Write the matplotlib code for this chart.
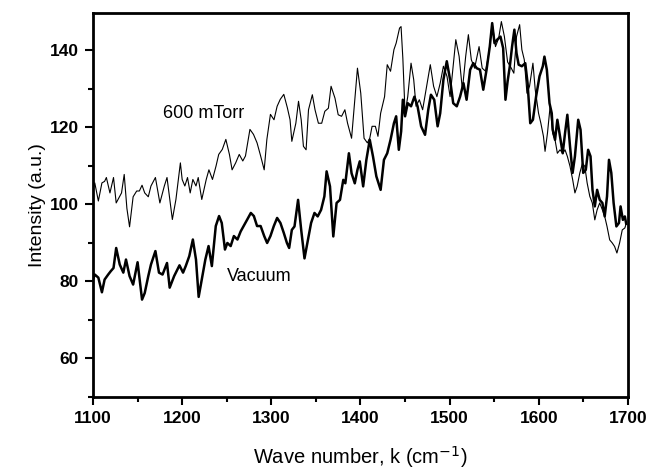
import matplotlib
matplotlib.use('Agg')
import matplotlib.pyplot as plt
from matplotlib.ticker import MultipleLocator

plt.rcParams['font.family'] = ['Liberation Sans', 'DejaVu Sans']

# 600 mTorr spectrum (thin line)
wn_torr = [1100, 1102, 1106, 1110, 1113, 1115, 1119, 1123, 1126, 1132, 1135, 1138, 1141, 1145,
           1149, 1152, 1155, 1158, 1162, 1165, 1170, 1175, 1180, 1183, 1189, 1193, 1198, 1200,
           1203, 1206, 1209, 1212, 1215.5, 1218, 1222, 1227, 1230, 1234, 1238, 1241, 1245, 1249,
           1253, 1256, 1260, 1264, 1268, 1271, 1276, 1280, 1284, 1288, 1292, 1295, 1299, 1303,
           1306.5, 1310, 1314, 1318, 1321, 1323, 1325, 1327.5, 1330.5, 1333.5, 1336, 1339, 1341.7,
           1346, 1349, 1352.8, 1356.5, 1360, 1364, 1367, 1371.4, 1375, 1378.8, 1382.5, 1385.5,
           1390, 1393.6, 1396.6, 1400.3, 1404, 1407.7, 1410.4, 1413, 1416.7, 1419.6, 1422.6, 1427,
           1430, 1433.7, 1437.5, 1440, 1443.8, 1445.5, 1447.5, 1450, 1453, 1456.7, 1459.7, 1462.3,
           1466, 1469.7, 1473.5, 1478.3, 1482, 1485.7, 1489.4, 1493, 1497, 1500.5, 1504.3, 1506.9,
           1510.6, 1514.3, 1518, 1521, 1524.3, 1528, 1533, 1536.5, 1540.3, 1544, 1547.7, 1551.4,
           1555, 1558, 1561.4, 1565, 1568, 1572, 1575, 1578.5, 1581, 1583.7, 1586.7, 1589.6,
           1593.4, 1596, 1599.7, 1602.3, 1605.2, 1607, 1609.7, 1612.7, 1615.6, 1618.2, 1620.8,
           1623.8, 1626.8, 1629.4, 1632, 1635, 1638, 1640.5, 1643, 1646, 1649, 1651.6, 1654.2,
           1657.2, 1660, 1662.8, 1665.4, 1668.3, 1671.3, 1673.9, 1676.5, 1679.5, 1682.4, 1685,
           1687.6, 1690.6, 1693.6, 1696.5, 1698]
int_torr = [104, 105.6, 100.9, 105.6, 106, 107, 103, 107, 100.4, 103, 107.8, 99, 94.2, 102,
            103.5, 103.5, 105, 103, 102, 104.8, 107, 100.4, 104.8, 107, 96.1, 101.3, 110.8, 106.5,
            104.8, 107, 103, 106.5, 104.8, 107, 101.3, 106.5, 109, 106.5, 110, 113, 114.3, 116.9,
            113, 109, 110.8, 113, 111.3, 112.6, 119.5, 118.2, 116, 112.6, 109, 116.9, 123.4, 122,
            125.5, 127.3, 128.6, 125.1, 122, 116.4, 118.5, 121.1, 126.8, 122, 115.1, 114.2, 124.6,
            128.5, 124.6, 121.1, 121.1, 124.2, 125, 130.7, 127.6, 123.3, 122.9, 124.6, 121.1,
            117.2, 127.2, 135.4, 128.9, 117.2, 116, 117.2, 120.3, 120.3, 117.7, 123.7, 128,
            136.3, 134.6, 140.2, 141.9, 145.8, 146.2, 138, 123.7, 128, 136.7, 132.4, 125.5,
            127.2, 124.6, 129.8, 136.3, 130.7, 128, 131.5, 135.9, 133.3, 128, 136.7, 142.8,
            138.5, 129.8, 138.5, 144.1, 137.6, 135.4, 141, 135.4, 134.6, 139.3, 147.1, 141,
            143.2, 147.5, 143.6, 137, 135.9, 134.1, 143.6, 146.7, 140.2, 137.6, 128.9, 130.7,
            136.7, 129.8, 123.7, 121.1, 117.7, 113.8, 118.5, 125.5, 118.5, 116.8, 113.3,
            114.2, 113.3, 114.2, 112.5, 109.9, 106.4, 103, 104.7, 108.2, 110.7, 109.9, 105.6,
            102.1, 100.4, 96, 98.6, 100.4, 98.6, 96.9, 94.3, 90.8, 90, 89.1,
            87.4, 90, 93.4, 93.9, 95]

# vacuum spectrum (thick line)
wn_vac = [1100, 1102, 1106, 1110, 1113, 1117, 1120, 1123, 1126, 1130, 1134, 1137, 1141, 1145,
          1150, 1155, 1158, 1162, 1165, 1170, 1174, 1178, 1183, 1186, 1191, 1197, 1201, 1204,
          1208, 1212, 1215.5, 1218.5, 1222, 1226, 1229.6, 1233.3, 1237.7, 1241.4, 1244.4, 1248,
          1250.7, 1254.4, 1258, 1262, 1265.6, 1269, 1273, 1277, 1280.4, 1284, 1288, 1292, 1295.3,
          1299, 1302.8, 1306.5, 1310.2, 1314, 1317.5, 1320, 1323, 1326, 1330, 1333.5, 1337.2,
          1341, 1344.6, 1348.4, 1352, 1355.8, 1359.5, 1362, 1365.8, 1369.5, 1373.2, 1377, 1380.7,
          1383, 1387, 1390, 1393.6, 1396.6, 1399.2, 1403, 1406.6, 1410.4, 1414, 1417.8, 1422.6,
          1426.3, 1430, 1433.7, 1437.5, 1440, 1443, 1445.6, 1447.5, 1450, 1453, 1456.7, 1460.5,
          1464, 1468, 1472.4, 1476, 1479, 1482.7, 1486.5, 1489.4, 1493, 1496.8, 1500.5, 1504,
          1508, 1511.7, 1515.5, 1519, 1523, 1526.5, 1530.3, 1534, 1537.7, 1541.4, 1545, 1547.7,
          1550.3, 1553.3, 1557, 1560, 1562.6, 1565, 1567.5, 1570, 1572.6, 1575, 1577.4, 1581,
          1584.8, 1587.4, 1590.4, 1593.4, 1597, 1600.8, 1604.5, 1606.3, 1609, 1612, 1614.5,
          1615.6, 1618.2, 1620.8, 1623.8, 1626.8, 1629.4, 1632, 1635, 1637.9, 1640.5, 1644.2,
          1646.8, 1649.8, 1652.7, 1655.3, 1658, 1660.2, 1662.8, 1665.4, 1668.3, 1671.3, 1673.9,
          1676.5, 1678.7, 1681.3, 1683.9, 1687, 1689.9, 1691.7, 1694.3, 1696.5, 1698]
int_vac = [80.5, 81.8, 81, 77.2, 80.5, 81.8, 82.7, 83.5, 88.7, 84.4, 82.3, 85.7, 81.4, 79.2,
           85, 75.3, 77, 81.4, 84.4, 87.9, 82.3, 81.8, 84.8, 78.4, 81.4, 84.2, 82.3, 84,
           86.6, 90.9, 85.7, 76, 80.5, 85.7, 89.2, 84, 94.4, 97, 95.2, 88.3,
           90, 89.2, 91.8, 90.9, 93, 94.4, 96.1, 97.8, 97, 94.4, 94.4, 91.8, 90,
           91.8, 94.4, 96.5, 95.2, 92.6, 90, 88.7, 93.4, 94.3, 101.2, 93.4, 86,
           90.8, 95.2, 97.8, 96.9, 98.6, 102.1, 108.6, 104.7, 91.7, 100.4, 101.2, 106.4,
           105.5, 113.3, 108.1, 105.5, 109, 111.2, 104.7, 111.6, 116.8, 112.5, 107.3, 103.8,
           111.6, 113.3, 116.8, 121.1, 122.9, 114.2, 119, 127.2, 122.9, 126.3, 125.5, 128,
           125.5, 120.3, 118.1, 124.6, 128.5, 127.2, 120.3, 123.7, 132.4, 137.2, 132.4, 126.3,
           125.5, 128, 131.5, 127.2, 135, 136.7, 135.4, 135, 129.8, 135, 141, 147.1,
           141.9, 142.8, 143.6, 140.6, 127.2, 132, 135.9, 141, 145.4, 139.3, 136.3, 135.9,
           136.7, 131.5, 121.1, 122, 128.1, 133.3, 135.9, 138.4, 135, 126.3, 123.7,
           119.4, 116.8, 122, 117.7, 113.3, 118.5, 123.3, 115.1, 108.2, 112.5, 122,
           119.4, 108.2, 109, 114.2, 112.5, 103.8, 99.5, 103.8, 101.2, 100.4, 96.9,
           102.1, 111.6, 108.2, 100.4, 94.3, 95.2, 99.5, 96, 96.9, 95]

fig = plt.figure(figsize=(6.49, 4.75), dpi=100)
ax = fig.add_axes([0.1433, 0.1642, 0.8243, 0.8074])

ax.plot(wn_torr, int_torr, color='black', linewidth=0.8)
ax.plot(wn_vac, int_vac, color='black', linewidth=1.8)

ax.text(1178, 123.6, '600 mTorr', fontsize=13, va='center', ha='left')
ax.text(1250, 81.2, 'Vacuum', fontsize=13, va='center', ha='left')

ax.set_xlim(1100, 1700)
ax.set_ylim(50, 149.6)
ax.xaxis.set_major_locator(MultipleLocator(100))
ax.xaxis.set_minor_locator(MultipleLocator(50))
ax.yaxis.set_minor_locator(MultipleLocator(10))
ax.set_yticks([60, 80, 100, 120, 140])

ax.tick_params(which='both', direction='out', top=False, right=False, width=1.5)
ax.tick_params(which='major', length=6, labelsize=12.5, pad=4)
ax.tick_params(which='minor', length=3.5)
for lbl in ax.get_xticklabels() + ax.get_yticklabels():
    lbl.set_fontweight('bold')
for sp in ax.spines.values():
    sp.set_linewidth(2)

ax.set_xlabel('Wave number, k (cm$^{-1}$)', fontsize=14.5, labelpad=13)
ax.set_ylabel('Intensity (a.u.)', fontsize=14, labelpad=3)

fig.savefig('out.png', dpi=100)
